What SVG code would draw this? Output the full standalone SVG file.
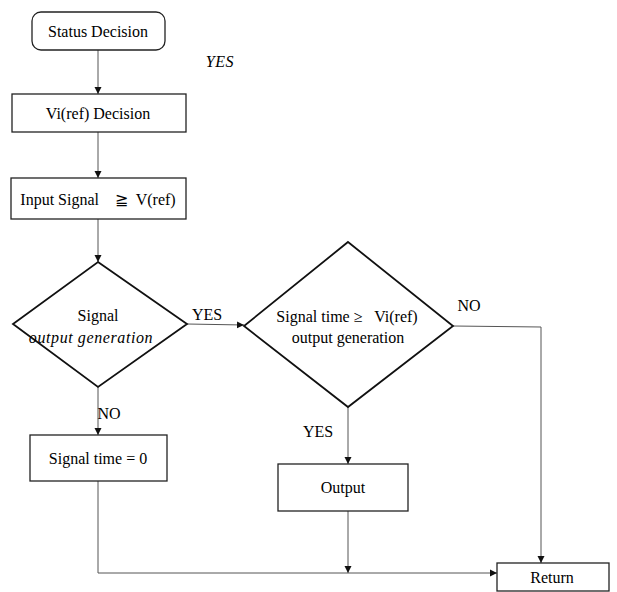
<svg xmlns="http://www.w3.org/2000/svg" width="617" height="592" viewBox="0 0 617 592">
<defs>
<marker id="ah" markerWidth="8" markerHeight="8" refX="7" refY="4" orient="auto" markerUnits="userSpaceOnUse">
<path d="M0,0.5 L7,4 L0,7.5 Z" fill="#111"/>
</marker>
<style>
.box{fill:#fff;stroke:#222;stroke-width:1.3}
.dia{fill:#fff;stroke:#111;stroke-width:1.8;stroke-linejoin:miter}
.t{font-family:"Liberation Serif","Times New Roman",serif;font-size:16px;fill:#000;text-anchor:middle}
.i{font-style:italic;letter-spacing:0.6px}
.c{fill:none;stroke:#555;stroke-width:1}
</style>
</defs>
<rect width="617" height="592" fill="#fff"/>
<g id="connectors">
<line class="c" x1="98" y1="50" x2="98" y2="94" marker-end="url(#ah)"/>
<line class="c" x1="98" y1="132" x2="98" y2="178" marker-end="url(#ah)"/>
<line class="c" x1="98" y1="219" x2="98" y2="262" marker-end="url(#ah)"/>
<line class="c" x1="187" y1="324" x2="244" y2="325" marker-end="url(#ah)"/>
<polyline class="c" points="453,326 541,327 541,563" marker-end="url(#ah)"/>
<line class="c" x1="98" y1="387" x2="98" y2="435" marker-end="url(#ah)"/>
<line class="c" x1="348" y1="407" x2="348" y2="464" marker-end="url(#ah)"/>
<line class="c" x1="348" y1="511" x2="348" y2="573" marker-end="url(#ah)"/>
<polyline class="c" points="98,481 98,573 497,573" marker-end="url(#ah)"/>
<text class="t i" x="220" y="67">YES</text>
<text class="t" x="207" y="320">YES</text>
<text class="t" x="469" y="311">NO</text>
<text class="t" x="109" y="419">NO</text>
<text class="t" x="318" y="437">YES</text>
</g>
<g id="status">
<rect class="box" x="32" y="12" width="133" height="38" rx="9"/>
<text class="t" x="98" y="37">Status Decision</text>
</g>
<g id="viref">
<rect class="box" x="12" y="94" width="174" height="38"/>
<text class="t" x="98" y="119">Vi(ref) Decision</text>
</g>
<g id="input">
<rect class="box" x="11" y="178" width="175" height="41"/>
<text class="t" x="98" y="205" xml:space="preserve">Input Signal    ≧  V(ref)</text>
</g>
<g id="dec1">
<polygon class="dia" points="98,262 187,324 98,387 13,324"/>
<text class="t" x="98" y="321">Signal</text>
<text class="t i" x="91" y="343">output generation</text>
</g>
<g id="dec2">
<polygon class="dia" points="348,242 453,326 348,407 244,326"/>
<text class="t" x="347" y="322" xml:space="preserve">Signal time ≥   Vi(ref)</text>
<text class="t" x="348" y="343">output generation</text>
</g>
<g id="sigzero">
<rect class="box" x="30" y="435" width="137" height="46"/>
<text class="t" x="98" y="464">Signal time = 0</text>
</g>
<g id="output">
<rect class="box" x="278" y="464" width="130" height="47"/>
<text class="t" x="343" y="493">Output</text>
</g>
<g id="return">
<rect class="box" x="497" y="563" width="112" height="28"/>
<text class="t" x="552" y="583">Return</text>
</g>
</svg>
